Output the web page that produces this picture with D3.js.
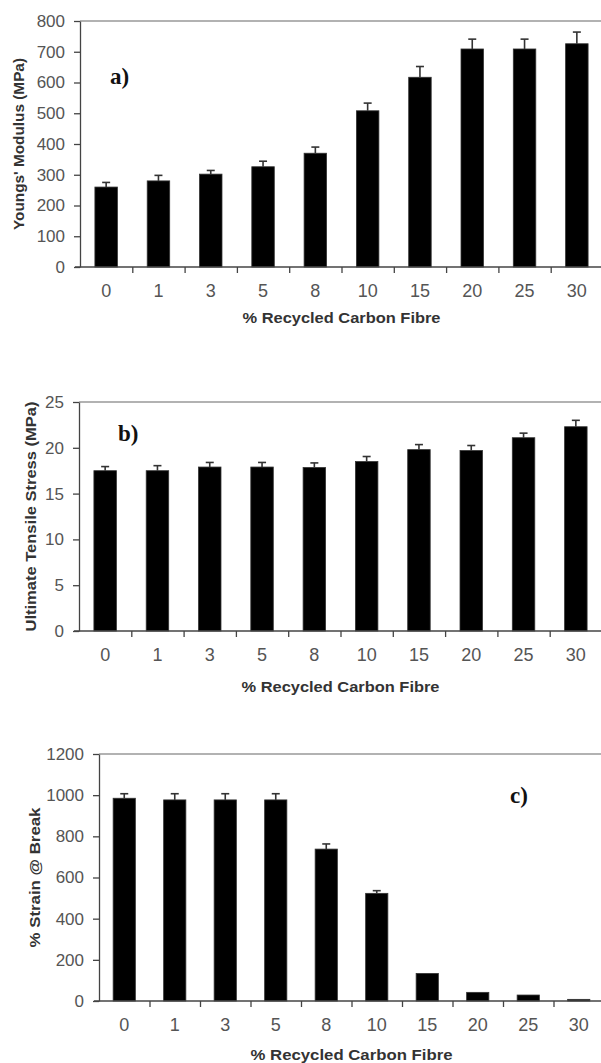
<!DOCTYPE html>
<html lang="en">
<head>
<meta charset="UTF-8">
<title>Recycled carbon fibre</title>
<script src="https://d3js.org/d3.v7.min.js"></script>
<style>
  body { margin: 0; background: #fff; }
  svg text { font-family: "Liberation Sans", Arial, sans-serif; }
</style>
</head>
<body>
<svg id="chart" width="601" height="1063"></svg>
<script>
// % recycled carbon fibre
var fibre = ["0", "1", "3", "5", "8", "10", "15", "20", "25", "30"]

// a) Youngs' modulus (MPa)
var modulus    = [260, 280, 302, 326, 370, 508, 617, 709, 709, 726]
var modulusErr = [15, 18, 12, 18, 20, 25, 35, 32, 32, 38]

// b) ultimate tensile stress (MPa)
var stress    = [17.5, 17.5, 17.9, 17.9, 17.85, 18.5, 19.8, 19.7, 21.1, 22.3]
var stressErr = [0.45, 0.55, 0.5, 0.5, 0.5, 0.55, 0.55, 0.55, 0.5, 0.7]

// c) % strain at break
var strain    = [985, 977, 977, 977, 738, 523, 134, 42, 29, 8]
var strainErr = [22, 30, 30, 30, 25, 13, 0, 0, 0, 0]

var svg = d3.select("#chart")

function panel(o) {
    var x = d3.scaleBand()
        .domain(fibre)
        .range([o.left, o.right])
        .paddingInner(o.pad)
        .paddingOuter(o.pad / 2)
    var y = d3.scaleLinear()
        .domain([0, o.max])
        .range([o.bottom, o.top])

    var g = svg.append("g")

    // top frame line
    g.append("line")
        .attr("x1", o.left).attr("x2", 601)
        .attr("y1", o.top).attr("y2", o.top)
        .attr("stroke", "#999").attr("stroke-width", 1.5)

    var rows = fibre.map(function(f, i) { return {f: f, v: o.values[i], e: o.errors[i]} })

    // bars
    g.selectAll(".bar").data(rows).enter().append("rect")
        .attr("x", function(d) { return x(d.f) })
        .attr("width", x.bandwidth())
        .attr("y", function(d) { return y(d.v) })
        .attr("height", function(d) { return y(0) - y(d.v) })
        .attr("fill", "#000")
        .attr("stroke", "#333").attr("stroke-width", 0.8)

    // error bars (upper only)
    var eb = g.selectAll(".err").data(rows.filter(function(d) { return d.e > 0 })).enter().append("g")
        .attr("stroke", "#333").attr("stroke-width", 1.6)
    eb.append("line")
        .attr("x1", function(d) { return x(d.f) + x.bandwidth() / 2 })
        .attr("x2", function(d) { return x(d.f) + x.bandwidth() / 2 })
        .attr("y1", function(d) { return y(d.v) })
        .attr("y2", function(d) { return y(d.v + d.e) })
    eb.append("line")
        .attr("x1", function(d) { return x(d.f) + x.bandwidth() / 2 - 4 })
        .attr("x2", function(d) { return x(d.f) + x.bandwidth() / 2 + 4 })
        .attr("y1", function(d) { return y(d.v + d.e) })
        .attr("y2", function(d) { return y(d.v + d.e) })

    // y axis
    var ya = g.append("g")
        .attr("transform", "translate(" + o.left + ",0)")
        .call(d3.axisLeft(y).ticks(o.max / o.step).tickFormat(d3.format("d"))
            .tickSize(6).tickPadding(9).tickSizeOuter(0))
    ya.select(".domain").attr("stroke", "#444").attr("stroke-width", 1.3)
    ya.selectAll(".tick line").attr("stroke", "#444").attr("stroke-width", 1.3)
    ya.selectAll("text")
        .attr("fill", "#555")
        .style("font-size", "17px")
        .style("font-family", "Liberation Sans, Arial, sans-serif")

    // x axis: ticks between categories, labels under bars
    var edge = d3.scaleLinear().domain([0, fibre.length]).range([o.left, o.right])
    var xt = g.append("g")
        .attr("transform", "translate(0," + o.bottom + ")")
        .call(d3.axisBottom(edge).tickValues(d3.range(1, fibre.length)).tickSize(6).tickFormat("").tickSizeOuter(0))
    xt.select(".domain").attr("stroke", "#444").attr("stroke-width", 1.3)
        .attr("d", "M" + (o.left - 5) + ",0H601")
    xt.selectAll(".tick line").attr("stroke", "#444").attr("stroke-width", 1.3)

    var xl = g.append("g")
        .attr("transform", "translate(0," + o.bottom + ")")
        .call(d3.axisBottom(x).tickSize(0).tickPadding(o.labelPad))
    xl.select(".domain").remove()
    xl.selectAll("text")
        .attr("fill", "#555")
        .style("font-size", "18px")
        .style("font-family", "Liberation Sans, Arial, sans-serif")

    // titles
    g.append("text")
        .attr("x", (o.left + o.right) / 2).attr("y", o.xTitleY)
        .attr("text-anchor", "middle")
        .attr("font-size", "15px").attr("font-weight", "bold").attr("fill", "#333")
        .attr("textLength", o.xTitleLen).attr("lengthAdjust", "spacingAndGlyphs")
        .text("% Recycled Carbon Fibre")

    g.append("text")
        .attr("transform", "translate(" + o.yTitleX + "," + (o.top + o.bottom) / 2 + ") rotate(-90)")
        .attr("text-anchor", "middle")
        .attr("font-size", "15px").attr("font-weight", "bold").attr("fill", "#333")
        .attr("textLength", o.yTitleLen).attr("lengthAdjust", "spacingAndGlyphs")
        .text(o.yTitle)

    g.append("text")
        .attr("x", o.tagX).attr("y", o.tagY)
        .style("font-family", "Liberation Serif, Times New Roman, serif")
        .attr("font-size", "23px").attr("font-weight", "bold").attr("fill", "#111")
        .text(o.tag)
}

panel({
    values: modulus, errors: modulusErr, max: 800, step: 100,
    left: 80, right: 603, top: 21, bottom: 267, pad: 0.57, labelPad: 17,
    xTitleY: 323, xTitleLen: 198,
    yTitle: "Youngs' Modulus (MPa)", yTitleX: 24, yTitleLen: 172,
    tag: "a)", tagX: 110, tagY: 84
})

panel({
    values: stress, errors: stressErr, max: 25, step: 5,
    left: 79, right: 602, top: 402, bottom: 631, pad: 0.57, labelPad: 17,
    xTitleY: 692, xTitleLen: 198,
    yTitle: "Ultimate Tensile Stress (MPa)", yTitleX: 36, yTitleLen: 230,
    tag: "b)", tagX: 118, tagY: 441
})

panel({
    values: strain, errors: strainErr, max: 1200, step: 200,
    left: 99, right: 604, top: 754, bottom: 1001, pad: 0.56, labelPad: 17,
    xTitleY: 1060, xTitleLen: 202,
    yTitle: "% Strain @ Break", yTitleX: 40, yTitleLen: 140,
    tag: "c)", tagX: 510, tagY: 803
})
</script>
</body>
</html>
